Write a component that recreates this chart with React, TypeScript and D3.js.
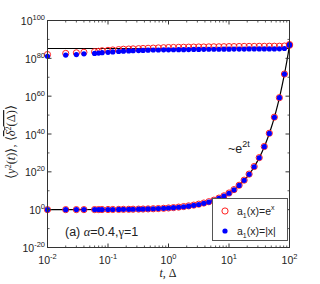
import React from "react";
import * as d3 from "d3";

// sample times (t and Delta share the grid)
const times = [
  0.01, 0.02, 0.03, 0.04, 0.06, 0.07, 0.08, 0.1, 0.12, 0.15, 0.18, 0.22, 0.26,
  0.32, 0.38, 0.46, 0.56, 0.68, 0.83, 1.0, 1.21, 1.47, 1.78, 2.15, 2.61, 3.16,
  3.83, 4.64, 5.62, 6.81, 8.25, 10, 12.1, 14.7, 17.8, 21.5, 26.1, 31.6, 38.3,
  46.4, 56.2, 68.1, 82.5, 100,
];

// log10 of the ensemble MSD <y^2(t)>
const ensRed = [
  0.01, 0.02, 0.03, 0.03, 0.05, 0.06, 0.07, 0.09, 0.1, 0.13, 0.16, 0.19, 0.23,
  0.28, 0.33, 0.4, 0.49, 0.59, 0.72, 0.9, 1.1, 1.35, 1.65, 2.0, 2.4, 2.9, 3.5,
  4.2, 5.0, 6.1, 7.3, 8.8, 10.6, 12.9, 15.6, 18.8, 22.8, 27.5, 33.4, 40.4,
  48.9, 59.2, 71.7, 86.9,
];
const ensBlue = [
  0.01, 0.02, 0.03, 0.03, 0.05, 0.06, 0.07, 0.09, 0.1, 0.13, 0.16, 0.19, 0.23,
  0.28, 0.33, 0.4, 0.49, 0.59, 0.72, 0.87, 1.05, 1.28, 1.55, 1.87, 2.27, 2.74,
  3.33, 4.03, 4.88, 5.92, 7.17, 8.69, 10.5, 12.8, 15.5, 18.7, 22.7, 27.4, 33.3,
  40.3, 48.8, 59.2, 71.7, 86.9,
];

// log10 of the time averaged MSD <delta^2(Delta)>
const taRed = [
  82.0, 82.6, 82.9, 83.2, 83.5, 83.7, 84.0, 84.2, 84.4, 84.6, 84.8, 84.9, 85.0,
  85.1, 85.2, 85.3, 85.4, 85.5, 85.6, 85.7, 85.75, 85.8, 85.85, 85.9, 85.95,
  86.0, 86.0, 86.05, 86.1, 86.1, 86.15, 86.2, 86.2, 86.25, 86.3, 86.3, 86.3,
  86.35, 86.35, 86.4, 86.4, 86.4, 86.5, 87.3,
];
const taBlue = [
  81.1, 81.7, 82.0, 82.4, 82.6, 82.8, 83.0, 83.2, 83.4, 83.6, 83.8, 83.9, 84.0,
  84.1, 84.2, 84.3, 84.4, 84.4, 84.5, 84.5, 84.55, 84.6, 84.6, 84.65, 84.7,
  84.7, 84.75, 84.8, 84.8, 84.8, 84.85, 84.85, 84.9, 84.9, 84.9, 84.95, 84.95,
  85.0, 85.0, 85.0, 85.0, 85.05, 85.2, 87.3,
];

// guide lines: ~e^{2t} and the plateau
const guideT = [
  0.01, 0.1, 0.5, 1, 2, 3, 4, 5, 6, 8, 10, 12, 15, 20, 25, 30, 35, 40, 45, 50,
  55, 60, 65, 70, 75, 80, 85, 90, 95, 100,
];
const guideLog = [
  0.01, 0.09, 0.43, 0.87, 1.74, 2.61, 3.47, 4.34, 5.21, 6.95, 8.69, 10.42,
  13.03, 17.37, 21.71, 26.06, 30.4, 34.74, 39.09, 43.43, 47.77, 52.12, 56.46,
  60.8, 65.14, 69.49, 73.83, 78.17, 82.52, 86.86,
];
const plateauLog = 85.2;

const xMajor = [-2, -1, 0, 1, 2];
const yMajor = [-20, 0, 20, 40, 60, 80, 100];

const W = 320;
const H = 284;
const left = 47.5;
const right = 289.5;
const top = 20.5;
const bottom = 247.5;

const sans = "'Liberation Sans', Arial, Helvetica, sans-serif";
const serif = "'Liberation Serif', 'Times New Roman', serif";

export default function App() {
  const x = d3.scaleLog().domain([0.01, 100]).range([left, right]);
  const y = d3.scaleLinear().domain([-20, 100]).range([bottom, top]);

  const guide = d3
    .line<number>()
    .x((_, i) => x(guideT[i]))
    .y((d) => y(d))
    .curve(d3.curveMonotoneX)(guideLog) as string;

  const xMinor: number[] = [];
  for (let e = -2; e < 2; e++) {
    for (let k = 2; k <= 9; k++) xMinor.push(k * Math.pow(10, e));
  }
  const yMinor = [-10, 10, 30, 50, 70, 90];

  return (
    <svg
      width={W}
      height={H}
      style={{ position: "absolute", left: 0, top: 0, background: "#fff" }}
    >
      <rect x={0} y={0} width={W} height={H} fill="#fff" />

      {/* guide lines */}
      <line
        x1={x(0.01)}
        x2={x(100)}
        y1={y(plateauLog)}
        y2={y(plateauLog)}
        stroke="#000"
        strokeWidth={1.2}
      />
      <path d={guide} fill="none" stroke="#000" strokeWidth={1.2} />

      {/* series */}
      {[ensRed, taRed].map((arr, s) =>
        arr.map((v, i) => (
          <circle
            key={"r" + s + "-" + i}
            cx={x(times[i])}
            cy={y(v)}
            r={3.1}
            fill="none"
            stroke="#ff2020"
            strokeWidth={1}
          />
        ))
      )}
      {[ensBlue, taBlue].map((arr, s) =>
        arr.map((v, i) => (
          <circle
            key={"b" + s + "-" + i}
            cx={x(times[i])}
            cy={y(v)}
            r={2.6}
            fill="#0000ff"
          />
        ))
      )}

      {/* frame */}
      <rect
        x={left}
        y={top}
        width={right - left}
        height={bottom - top}
        fill="none"
        stroke="#333"
        strokeWidth={1}
      />

      {/* x ticks */}
      {xMajor.map((e) => (
        <g key={"xt" + e}>
          <line x1={x(10 ** e)} x2={x(10 ** e)} y1={bottom} y2={bottom - 4} stroke="#333" />
          <line x1={x(10 ** e)} x2={x(10 ** e)} y1={top} y2={top + 4} stroke="#333" />
          <text
            x={x(10 ** e)}
            y={264}
            textAnchor="middle"
            fontFamily={sans}
            fontSize={10.5}
            fill="#222"
          >
            10
            <tspan dy={-5} fontSize={7.5}>
              {e}
            </tspan>
          </text>
        </g>
      ))}
      {xMinor.map((v, i) => (
        <g key={"xm" + i}>
          <line x1={x(v)} x2={x(v)} y1={bottom} y2={bottom - 2} stroke="#333" strokeWidth={0.8} />
          <line x1={x(v)} x2={x(v)} y1={top} y2={top + 2} stroke="#333" strokeWidth={0.8} />
        </g>
      ))}

      {/* y ticks */}
      {yMajor.map((e) => (
        <g key={"yt" + e}>
          <line x1={left} x2={left + 4} y1={y(e)} y2={y(e)} stroke="#333" />
          <line x1={right} x2={right - 4} y1={y(e)} y2={y(e)} stroke="#333" />
          <text
            x={45}
            y={y(e) + 4.5}
            textAnchor="end"
            fontFamily={sans}
            fontSize={10.5}
            fill="#222"
          >
            10
            <tspan dy={-5} fontSize={7.5}>
              {e}
            </tspan>
          </text>
        </g>
      ))}
      {yMinor.map((e) => (
        <g key={"ym" + e}>
          <line x1={left} x2={left + 2} y1={y(e)} y2={y(e)} stroke="#333" strokeWidth={0.8} />
          <line x1={right} x2={right - 2} y1={y(e)} y2={y(e)} stroke="#333" strokeWidth={0.8} />
        </g>
      ))}

      {/* axis titles */}
      <text
        x={168}
        y={277}
        textAnchor="middle"
        fontFamily={serif}
        fontSize={12}
        fill="#222"
      >
        <tspan fontStyle="italic">t</tspan>, Δ
      </text>
      <text
        transform={`translate(15, ${(top + bottom) / 2 + 8}) rotate(-90)`}
        textAnchor="middle"
        fontFamily={serif}
        fontSize={12.5}
        fill="#222"
      >
        ⟨<tspan fontStyle="italic">y</tspan>
        <tspan dy={-4} fontSize={8}>2</tspan>
        <tspan dy={4}>(</tspan>
        <tspan fontStyle="italic">t</tspan>)⟩, ⟨
        <tspan textDecoration="overline" style={{ textDecoration: "overline" }}>
          <tspan fontStyle="italic">δ</tspan>
          <tspan dy={-4} fontSize={8}>2</tspan>
          <tspan dy={4}>(Δ)</tspan>
        </tspan>
        ⟩
      </text>

      {/* annotations */}
      <text x={228} y={153} fontFamily={sans} fontSize={12.5} fill="#222">
        ~e
        <tspan dy={-6} fontSize={9}>
          2t
        </tspan>
      </text>
      <text x={65} y={236} fontFamily={sans} fontSize={12.5} fill="#222">
        (a) <tspan fontFamily={serif} fontStyle="italic">α</tspan>=0.4,
        <tspan fontFamily={serif}>γ</tspan>=1
      </text>

      {/* legend */}
      <rect x={212.5} y={198.5} width={75} height={42} fill="#fff" stroke="#555" strokeWidth={1} />
      <circle cx={225} cy={211} r={3.1} fill="none" stroke="#ff2020" strokeWidth={1} />
      <circle cx={225} cy={231} r={2.6} fill="#0000ff" />
      <text x={237} y={215} fontFamily={sans} fontSize={10.5} fill="#222">
        a<tspan dy={3} fontSize={7}>1</tspan>
        <tspan dy={-3}>(x)=e</tspan>
        <tspan dy={-5} fontSize={7}>x</tspan>
      </text>
      <text x={237} y={235} fontFamily={sans} fontSize={10.5} fill="#222">
        a<tspan dy={3} fontSize={7}>1</tspan>
        <tspan dy={-3}>(x)=|x|</tspan>
      </text>
    </svg>
  );
}
